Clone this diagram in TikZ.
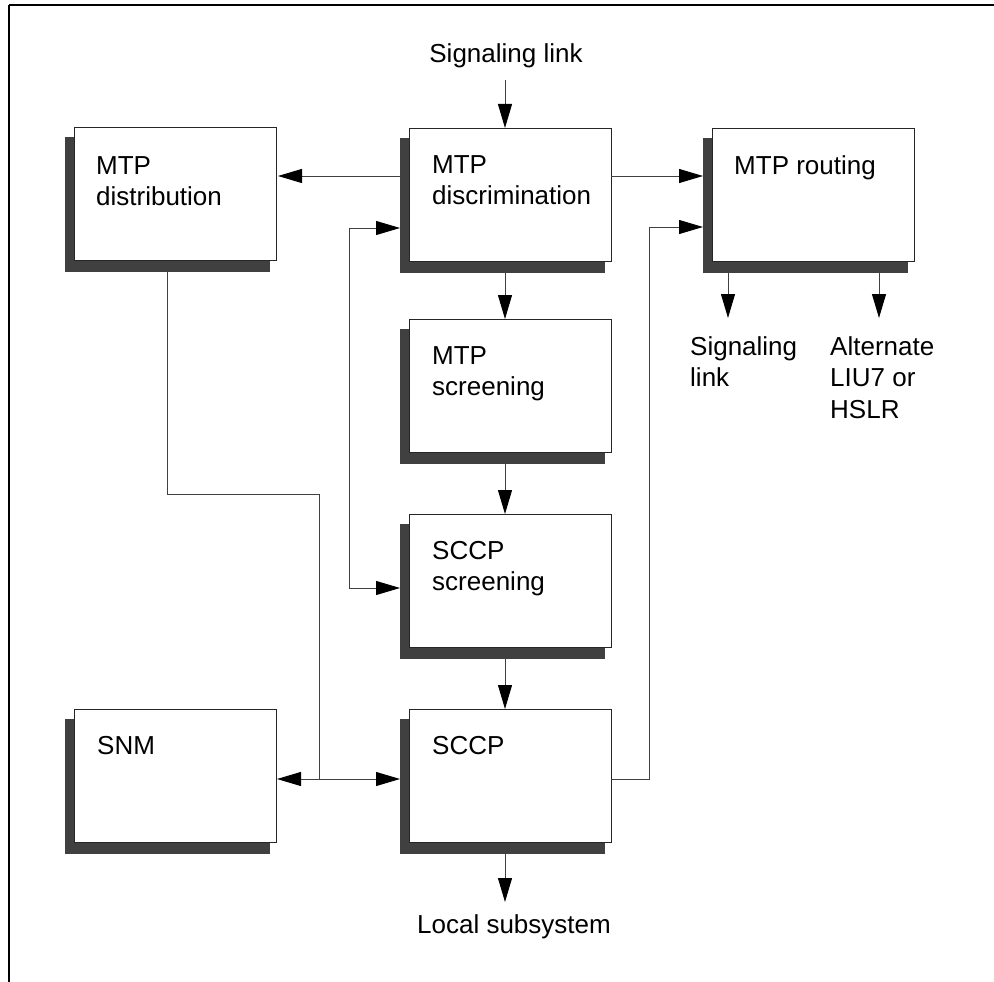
\documentclass[tikz,border=0pt]{standalone}
\usepackage{fontspec}
\setmainfont{Liberation Sans}
\usetikzlibrary{arrows.meta,calc}
\pgfdeclarelayer{background}
\pgfsetlayers{background,main}
\definecolor{shadowc}{HTML}{404040}
\begin{document}
\begin{tikzpicture}[x=1pt,y=-1pt,
  box/.style={draw=black!85, line width=1pt, fill=white, minimum width=202pt, minimum height=133pt, anchor=north west, inner sep=0pt, outer sep=0pt},
  boxtext/.style={anchor=north west, align=left, inner sep=0pt, font=\fontsize{26}{31.5}\selectfont},
  lbl/.style={align=left, inner sep=0pt, font=\fontsize{26}{31.5}\selectfont},
  conn/.style={draw=black!75, line width=1pt},
  arr/.style={conn, -{Triangle[length=24pt,width=14pt,color=black]}},
  darr/.style={conn, {Triangle[length=24pt,width=14pt,color=black]}-{Triangle[length=24pt,width=14pt,color=black]}},
]
\useasboundingbox (0,0) rectangle (994,982);
% frame
\draw[line width=2.5pt] (9,5) -- (994,5);
\draw[line width=1.2pt] (9,5) -- (9,982);

% boxes
\node[box] (dist) at (74,127) {};
\node[box] (disc) at (409,128) {};
\node[box] (rout) at (712,128) {};
\node[box] (mscr) at (409,319) {};
\node[box] (sscr) at (409,514) {};
\node[box] (sccp) at (409,709) {};
\node[box] (snm)  at (74,709) {};

\begin{pgfonlayer}{background}
\foreach \b in {dist,disc,rout,mscr,sscr,sccp,snm}
  \fill[shadowc] ($(\b.north west)+(-9,10)$) rectangle ($(\b.south east)+(-6,12)$);
\end{pgfonlayer}

% box texts
\node[boxtext] (distT) at ($(dist.north west)+(22,29)$) {MTP\\distribution};
\node[boxtext] (discT) at ($(disc.north west)+(23,27)$) {MTP\\discrimination};
\node[boxtext] (routT) at ($(rout.north west)+(22,27)$) {MTP routing};
\node[boxtext] (mscrT) at ($(mscr.north west)+(23,27)$) {MTP\\screening};
\node[boxtext] (sscrT) at ($(sscr.north west)+(23,27)$) {SCCP\\screening};
\node[boxtext] (sccpT) at ($(sccp.north west)+(23,27)$) {SCCP};
\node[boxtext] (snmT)  at ($(snm.north west)+(23,27)$) {SNM};

% outside labels
\node[lbl, anchor=base] (sigtop) at (506,63) {Signaling link};
\node[lbl, anchor=base] (local) at (514,933) {Local subsystem};
\node[lbl, anchor=north west] (siglink) at (690,336) {Signaling\\link};
\node[lbl, anchor=north west] (alt) at (830,336) {Alternate\\LIU7 or\\HSLR};

% helper coordinates
\coordinate (cx) at (505,0);
\coordinate (lx) at (349,0);
\coordinate (rx) at (649,0);
\coordinate (j) at (319,779);

% connectors
\draw[arr] (cx |- 0,80) -- (cx |- disc.north);
\draw[arr] ($(disc.north west)+(-9,48)$) -- ($(dist.north east)+(2,49)$);
\draw[arr] ($(disc.north east)+(0,48)$) -- ($(rout.north west)+(-9,48)$);
\draw[darr] ($(disc.north west)+(-9,100)$) -- (lx |- {$(disc.north west)+(0,100)$}) -- (lx |- {$(sscr.north west)+(0,74)$}) -- ($(sscr.north west)+(-9,74)$);
\draw[arr] (cx |- {$(disc.south)+(0,12)$}) -- (cx |- mscr.north);
\draw[arr] (cx |- {$(mscr.south)+(0,12)$}) -- (cx |- sscr.north);
\draw[arr] (cx |- {$(sscr.south)+(0,12)$}) -- (cx |- sccp.north);
\draw[arr] (cx |- {$(sccp.south)+(0,12)$}) -- (cx |- {$(sccp.south)+(0,60)$});
\draw[conn] ($(dist.south west)+(93,12)$) |- ($(j)+(0,-285)$) -- (j);
\draw[arr] (j) -- ($(snm.north east)+(1,70)$);
\draw[arr] (j) -- ($(sccp.north west)+(-9,70)$);
\draw[arr] ($(sccp.north east)+(0,70)$) -- (rx |- {$(sccp.north east)+(0,70)$}) -- (rx |- {$(rout.north west)+(0,99)$}) -- ($(rout.north west)+(-9,99)$);
\draw[arr] ($(rout.south west)+(16,12)$) -- ($(rout.south west)+(16,57)$);
\draw[arr] ($(rout.south west)+(167,12)$) -- ($(rout.south west)+(167,57)$);
\end{tikzpicture}
\end{document}
